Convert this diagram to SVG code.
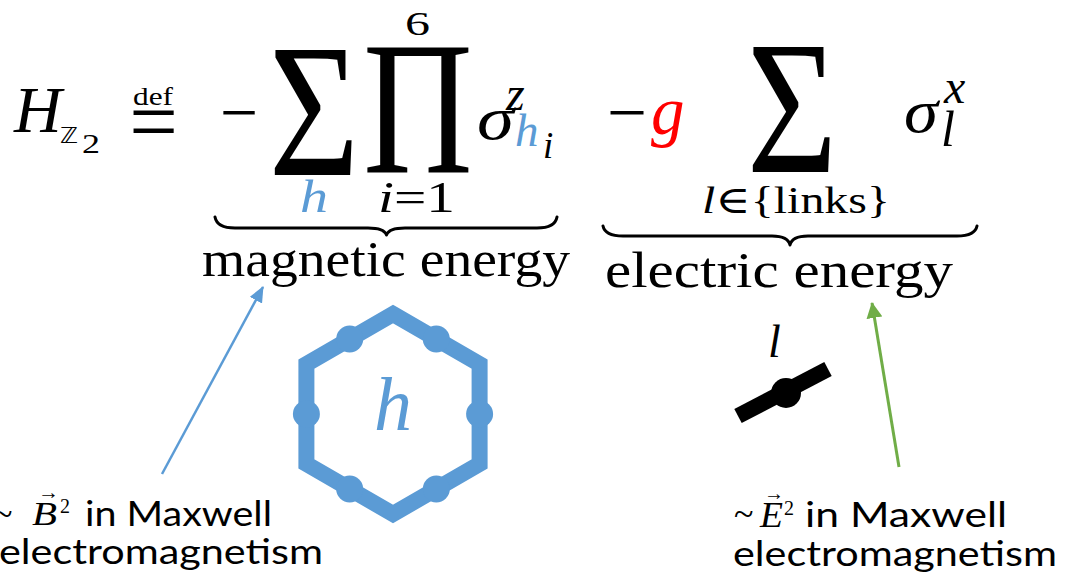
<svg xmlns="http://www.w3.org/2000/svg" width="1066" height="581" viewBox="0 0 1066 581">
<defs>
<style>
.m{font-family:"Liberation Serif","DejaVu Serif",serif;fill:#000}
.it{font-style:italic}
.blue{fill:#5B9BD5}
.red{fill:#FF0000}
.sans{font-family:Lato,"Noto Sans","DejaVu Sans",sans-serif;fill:#000}
.tl{font-family:"Liberation Serif",serif;fill:#000}
.brace{fill:none;stroke:#000;stroke-width:3;stroke-linejoin:round;stroke-linecap:round}
.hex{fill:none;stroke:#5B9BD5;stroke-width:16;stroke-linejoin:miter}
.dot{fill:#5B9BD5}
</style>
<marker id="ab" markerUnits="userSpaceOnUse" markerWidth="16" markerHeight="14" refX="15" refY="7" orient="auto"><path d="M0,0 L16,7 L0,14 Z" fill="#5B9BD5"/></marker>
<marker id="ag" markerUnits="userSpaceOnUse" markerWidth="16" markerHeight="16" refX="15" refY="8" orient="auto"><path d="M0,0 L16,8 L0,16 Z" fill="#70AD47"/></marker>
</defs>
<rect width="1066" height="581" fill="#fff"/>

<g id="equation">
<text class="m it" x="14" y="132" font-size="66">H</text>
<text x="60" y="143" font-size="22" font-family="DejaVu Sans,sans-serif" textLength="18" lengthAdjust="spacingAndGlyphs">ℤ</text>
<text class="m" x="82" y="153" font-size="27" textLength="18" lengthAdjust="spacingAndGlyphs">2</text>
<text class="m" x="133" y="105" font-size="26" textLength="40" lengthAdjust="spacingAndGlyphs">def</text>
<text class="m" transform="translate(153.5,151) scale(0.98,1)" text-anchor="middle" font-size="88">=</text>
<text class="m" x="220" y="136" font-size="70" textLength="38" lengthAdjust="spacingAndGlyphs">−</text>
<text class="m" transform="translate(314,175) scale(0.82,1)" text-anchor="middle" font-size="190">Σ</text>
<text class="m" transform="translate(418,173) scale(0.8,1)" text-anchor="middle" font-size="190">Π</text>
<text class="m" x="405" y="35" font-size="33" textLength="25" lengthAdjust="spacingAndGlyphs">6</text>
<text class="m it" x="477" y="139" font-size="62" textLength="37" lengthAdjust="spacingAndGlyphs">σ</text>
<text class="m it" x="506" y="110" font-size="48">z</text>
<text class="m it blue" x="515" y="146" font-size="47">h</text>
<text class="m it" x="543" y="158" font-size="37">i</text>
<text class="m it blue" x="300" y="212" font-size="47" textLength="28" lengthAdjust="spacingAndGlyphs">h</text>
<text class="m" x="378" y="212" font-size="44" textLength="77" lengthAdjust="spacingAndGlyphs"><tspan class="it">i</tspan>=1</text>
<text class="m" x="607" y="136" font-size="70" textLength="40" lengthAdjust="spacingAndGlyphs">−</text>
<text class="m it red" x="651" y="134" font-size="67">g</text>
<text class="m" transform="translate(792,172) scale(0.82,1)" text-anchor="middle" font-size="190">Σ</text>
<text class="m it" x="904" y="132" font-size="62" textLength="34" lengthAdjust="spacingAndGlyphs">σ</text>
<text class="m it" x="944" y="103" font-size="48">x</text>
<text class="m it" x="941" y="146" font-size="50">l</text>
<text class="m" x="702" y="213" font-size="38" textLength="188" lengthAdjust="spacingAndGlyphs"><tspan class="it">l</tspan>∈{links}</text>
</g>

<g id="brace-magnetic">
<path class="brace" d="M215,217 Q217,228 235,228 L368,228 Q384,228 386.5,235 Q389,228 405,228 L537,228 Q555,228 557,217"/>
<text class="m" x="202" y="276" font-size="50" textLength="368" lengthAdjust="spacingAndGlyphs">magnetic energy</text>
</g>

<g id="brace-electric">
<path class="brace" d="M603,226 Q605,236 623,236 L772,236 Q788,236 790,245 Q792,236 808,236 L957,236 Q975,236 977,226"/>
<text class="m" x="605" y="287" font-size="50" textLength="348" lengthAdjust="spacingAndGlyphs">electric energy</text>
</g>

<g id="hexagon">
<polygon class="hex" points="393,314 479.6,364 479.6,464 393,514 306.4,464 306.4,364"/>
<circle class="dot" cx="349.7" cy="339" r="13.5"/>
<circle class="dot" cx="436.3" cy="339" r="13.5"/>
<circle class="dot" cx="479.6" cy="414" r="13.5"/>
<circle class="dot" cx="436.3" cy="489" r="13.5"/>
<circle class="dot" cx="349.7" cy="489" r="13.5"/>
<circle class="dot" cx="306.4" cy="414" r="13.5"/>
<text class="m it blue" x="393" y="430" font-size="76" text-anchor="middle">h</text>
</g>

<g id="link">
<line x1="738" y1="416" x2="828" y2="369" stroke="#000" stroke-width="16"/>
<circle cx="786" cy="393" r="15" fill="#000"/>
<text class="m it" x="768" y="357" font-size="46">l</text>
</g>

<g id="note-B">
<text class="tl" x="-7" y="526" font-size="36">~</text>
<text class="m it" x="32" y="525" font-size="33" textLength="25" lengthAdjust="spacingAndGlyphs">B</text>
<text class="m" x="38" y="499" font-size="20" textLength="21" lengthAdjust="spacingAndGlyphs">→</text>
<text class="m" x="60" y="513" font-size="20">2</text>
<text class="sans" x="85" y="526" font-size="34" textLength="187" lengthAdjust="spacingAndGlyphs">in Maxwell</text>
<text class="sans" x="-1" y="564" font-size="34" textLength="324" lengthAdjust="spacingAndGlyphs">electromagnetism</text>
</g>

<g id="note-E">
<text class="tl" x="734" y="526" font-size="36">~</text>
<text class="m it" x="760" y="527" font-size="35" textLength="23" lengthAdjust="spacingAndGlyphs">E</text>
<text class="m" x="764" y="500" font-size="20" textLength="20" lengthAdjust="spacingAndGlyphs">→</text>
<text class="m" x="784" y="515" font-size="20">2</text>
<text class="sans" x="805" y="527" font-size="34" textLength="202" lengthAdjust="spacingAndGlyphs">in Maxwell</text>
<text class="sans" x="733" y="566" font-size="34" textLength="324" lengthAdjust="spacingAndGlyphs">electromagnetism</text>
</g>

<g id="connectors">
<line x1="162" y1="474" x2="263" y2="287" stroke="#5B9BD5" stroke-width="2.5" marker-end="url(#ab)"/>
<line x1="899" y1="467" x2="872" y2="303" stroke="#70AD47" stroke-width="3" marker-end="url(#ag)"/>
</g>
</svg>
